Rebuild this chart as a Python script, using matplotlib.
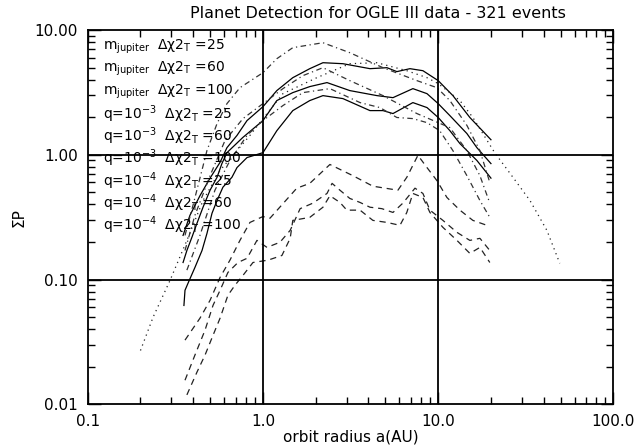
import matplotlib
matplotlib.use("Agg")
import matplotlib.pyplot as plt
from matplotlib.ticker import FixedLocator, LogLocator, NullFormatter, FixedFormatter

plt.rcParams['font.family'] = ['DejaVu Sans']
plt.rcParams['lines.scale_dashes'] = False

title = "Planet Detection for OGLE III data - 321 events"
xlabel = "orbit radius a(AU)"
ylabel = "ΣP"
x_ticks = [0.1, 1.0, 10.0, 100.0]
x_ticklabels = ["0.1", "1.0", "10.0", "100.0"]
y_ticks = [0.01, 0.1, 1.0, 10.0]
y_ticklabels = ["0.01", "0.10", "1.00", "10.00"]

legend_labels = [
    r"$\mathregular{m_{jupiter}}$  $\mathregular{\Delta\chi2_T}$ =25",
    r"$\mathregular{m_{jupiter}}$  $\mathregular{\Delta\chi2_T}$ =60",
    r"$\mathregular{m_{jupiter}}$  $\mathregular{\Delta\chi2_T}$ =100",
    r"q=10$^{-3}$  $\mathregular{\Delta\chi2_T}$ =25",
    r"q=10$^{-3}$  $\mathregular{\Delta\chi2_T}$ =60",
    r"q=10$^{-3}$  $\mathregular{\Delta\chi2_T}$ =100",
    r"q=10$^{-4}$  $\mathregular{\Delta\chi2_T}$ =25",
    r"q=10$^{-4}$  $\mathregular{\Delta\chi2_T}$ =60",
    r"q=10$^{-4}$  $\mathregular{\Delta\chi2_T}$ =100",
]

# m_jupiter curves (solid)
mj25_x = [0.350, 0.383, 0.437, 0.499, 0.569, 0.623, 0.711, 0.811, 1.0, 1.20, 1.48, 1.85, 2.20, 2.86, 4.08, 5.10, 5.81, 6.90, 8.18, 10.0, 12.13, 15.16, 20.0]
mj25_y = [0.226, 0.327, 0.47, 0.65, 0.87, 1.14, 1.43, 1.88, 2.43, 3.27, 4.15, 4.90, 5.47, 5.37, 4.90, 4.99, 4.64, 4.90, 4.72, 3.93, 2.98, 1.99, 1.32]

mj60_x = [0.350, 0.368, 0.394, 0.420, 0.455, 0.499, 0.547, 0.583, 0.623, 0.769, 1.0, 1.20, 1.48, 1.85, 2.32, 3.13, 4.47, 5.52, 7.17, 8.63, 10.0, 11.66, 14.58, 16.63, 20.0]
mj60_y = [0.137, 0.171, 0.22, 0.282, 0.38, 0.52, 0.66, 0.85, 1.04, 1.38, 1.88, 2.72, 3.15, 3.52, 3.79, 3.27, 2.98, 2.87, 3.39, 3.09, 2.57, 2.06, 1.48, 1.14, 0.85]

mj100_x = [0.354, 0.359, 0.373, 0.409, 0.449, 0.479, 0.512, 0.547, 0.591, 0.665, 0.711, 0.811, 1.0, 1.20, 1.48, 1.85, 2.20, 2.86, 4.08, 4.84, 5.52, 7.17, 8.63, 10.0, 11.66, 13.3, 16.63, 20.0]
mj100_y = [0.062, 0.082, 0.093, 0.125, 0.171, 0.234, 0.34, 0.43, 0.55, 0.66, 0.79, 0.95, 1.04, 1.56, 2.26, 2.72, 2.98, 2.82, 2.26, 2.26, 2.14, 2.62, 2.39, 1.99, 1.56, 1.23, 0.90, 0.65]

# q = 1e-3 curves
q3a_x = [0.20, 0.236, 0.295, 0.368, 0.455, 0.569, 0.711, 0.843, 1.0, 1.30, 2.03, 3.13, 4.47, 6.62, 8.63, 10.0, 13.3, 15.77, 21.0, 26.7, 33.4, 41.7, 49.4]
q3a_y = [0.027, 0.0499, 0.0986, 0.206, 0.43, 0.75, 1.08, 1.43, 1.95, 3.09, 4.15, 5.37, 5.47, 4.72, 4.15, 3.72, 2.72, 1.99, 1.04, 0.66, 0.43, 0.248, 0.135]

q3b_x = [0.359, 0.40, 0.479, 0.547, 0.623, 0.739, 1.0, 1.20, 1.48, 2.20, 3.13, 4.84, 7.56, 9.84, 11.66, 14.58, 17.3, 19.7]
q3b_y = [0.226, 0.40, 1.08, 1.78, 2.57, 3.45, 4.55, 5.89, 7.22, 7.91, 6.58, 4.99, 3.93, 3.45, 2.72, 1.72, 1.08, 0.60]

q3c_x = [0.359, 0.409, 0.499, 0.607, 0.769, 1.0, 1.30, 1.69, 2.20, 3.13, 4.84, 7.56, 11.66, 14.58, 17.3, 19.7]
q3c_y = [0.171, 0.327, 0.68, 1.30, 1.95, 2.57, 3.39, 4.31, 4.99, 3.93, 2.98, 2.14, 1.65, 1.08, 0.68, 0.41]

q3d_x = [0.368, 0.437, 0.532, 0.648, 0.811, 1.0, 1.30, 1.69, 2.41, 3.58, 4.65, 5.81, 7.17, 8.63, 10.2, 12.13, 14.58, 17.3, 19.7]
q3d_y = [0.119, 0.226, 0.52, 0.90, 1.43, 1.88, 2.48, 3.15, 3.39, 2.62, 2.39, 1.99, 1.95, 1.81, 1.56, 1.08, 0.68, 0.43, 0.315]

# q = 1e-4 curves (dashed)
q4a_x = [0.359, 0.437, 0.499, 0.569, 0.648, 0.739, 0.843, 1.0, 1.096, 1.56, 1.85, 2.41, 3.26, 4.24, 5.89, 6.62, 7.66, 8.63, 9.84, 11.21, 13.3, 15.77, 19.7]
q4a_y = [0.0327, 0.049, 0.0682, 0.104, 0.143, 0.206, 0.287, 0.32, 0.31, 0.54, 0.59, 0.836, 0.68, 0.56, 0.52, 0.66, 0.99, 0.79, 0.62, 0.455, 0.36, 0.298, 0.267]

q4b_x = [0.359, 0.409, 0.467, 0.519, 0.569, 0.631, 0.72, 0.811, 0.924, 1.054, 1.25, 1.43, 1.63, 1.93, 2.32, 2.48, 2.75, 3.13, 3.58, 4.08, 4.77, 5.52, 6.29, 7.37, 8.18, 8.97, 10.64, 12.79, 15.16, 17.3, 19.7]
q4b_y = [0.0156, 0.0248, 0.0393, 0.0622, 0.082, 0.114, 0.137, 0.148, 0.206, 0.181, 0.199, 0.248, 0.37, 0.41, 0.49, 0.59, 0.52, 0.447, 0.415, 0.38, 0.37, 0.345, 0.41, 0.54, 0.49, 0.36, 0.298, 0.239, 0.206, 0.214, 0.171]

q4c_x = [0.368, 0.42, 0.467, 0.519, 0.569, 0.631, 0.692, 0.769, 0.877, 1.068, 1.283, 1.43, 1.48, 1.85, 2.20, 2.41, 2.75, 3.01, 3.58, 4.24, 5.10, 6.05, 6.62, 7.17, 8.18, 8.97, 10.64, 12.79, 15.16, 17.3, 19.7]
q4c_y = [0.0119, 0.0181, 0.0248, 0.0358, 0.049, 0.0748, 0.090, 0.108, 0.137, 0.143, 0.156, 0.214, 0.298, 0.315, 0.38, 0.47, 0.415, 0.36, 0.36, 0.298, 0.287, 0.272, 0.345, 0.49, 0.455, 0.345, 0.262, 0.206, 0.162, 0.181, 0.137]

DOT = (0, (0.9, 2.9))
DASHDOT = (0, (4.0, 2.5, 0.9, 2.5))
DASH = (0, (4.5, 3.5))

fig = plt.figure(figsize=(6.38, 4.48), dpi=100)
ax = fig.add_axes([0.1375, 0.0975, 0.824, 0.8355])
ax.set_xscale('log')
ax.set_yscale('log')
ax.set_xlim(0.1, 100)
ax.set_ylim(0.01, 10)

lw = 0.9
for xs, ys in [(mj25_x, mj25_y), (mj60_x, mj60_y), (mj100_x, mj100_y)]:
    ax.plot(xs, ys, color='black', lw=lw, ls='-')
ax.plot(q3a_x, q3a_y, color='#222222', lw=lw, ls=DOT)
ax.plot(q3b_x, q3b_y, color='#333333', lw=lw, ls=DASHDOT)
ax.plot(q3c_x, q3c_y, color='#333333', lw=lw, ls=DASHDOT)
ax.plot(q3d_x, q3d_y, color='#333333', lw=lw, ls=DASHDOT)
for xs, ys in [(q4a_x, q4a_y), (q4b_x, q4b_y), (q4c_x, q4c_y)]:
    ax.plot(xs, ys, color='#222222', lw=lw, ls=DASH)

for v in x_ticks[1:-1]:
    ax.axvline(v, color='black', lw=1.3)
for v in y_ticks[1:-1]:
    ax.axhline(v, color='black', lw=1.3)

ax.xaxis.set_major_locator(FixedLocator(x_ticks))
ax.xaxis.set_major_formatter(FixedFormatter(x_ticklabels))
ax.yaxis.set_major_locator(FixedLocator(y_ticks))
ax.yaxis.set_major_formatter(FixedFormatter(y_ticklabels))
ax.xaxis.set_minor_locator(LogLocator(base=10, subs=range(2, 10)))
ax.yaxis.set_minor_locator(LogLocator(base=10, subs=range(2, 10)))
ax.xaxis.set_minor_formatter(NullFormatter())
ax.yaxis.set_minor_formatter(NullFormatter())
ax.tick_params(which='both', direction='in', top=True, right=True, width=1.0, colors='black')
ax.tick_params(which='major', length=9, labelsize=11, pad=7)
ax.tick_params(which='minor', length=5)
for s in ax.spines.values():
    s.set_linewidth(1.3)

ax.set_title(title, fontsize=11.5, x=0.552, pad=9)
ax.set_xlabel(xlabel, fontsize=11, labelpad=0)
ax.set_ylabel(ylabel, fontsize=11, labelpad=6)

row0 = 0.955
step = 0.0596
for i, lab in enumerate(legend_labels):
    ax.text(0.029, row0 - i * step, lab, transform=ax.transAxes, fontsize=10, va='center', ha='left')

fig.savefig("out.png", dpi=100)
